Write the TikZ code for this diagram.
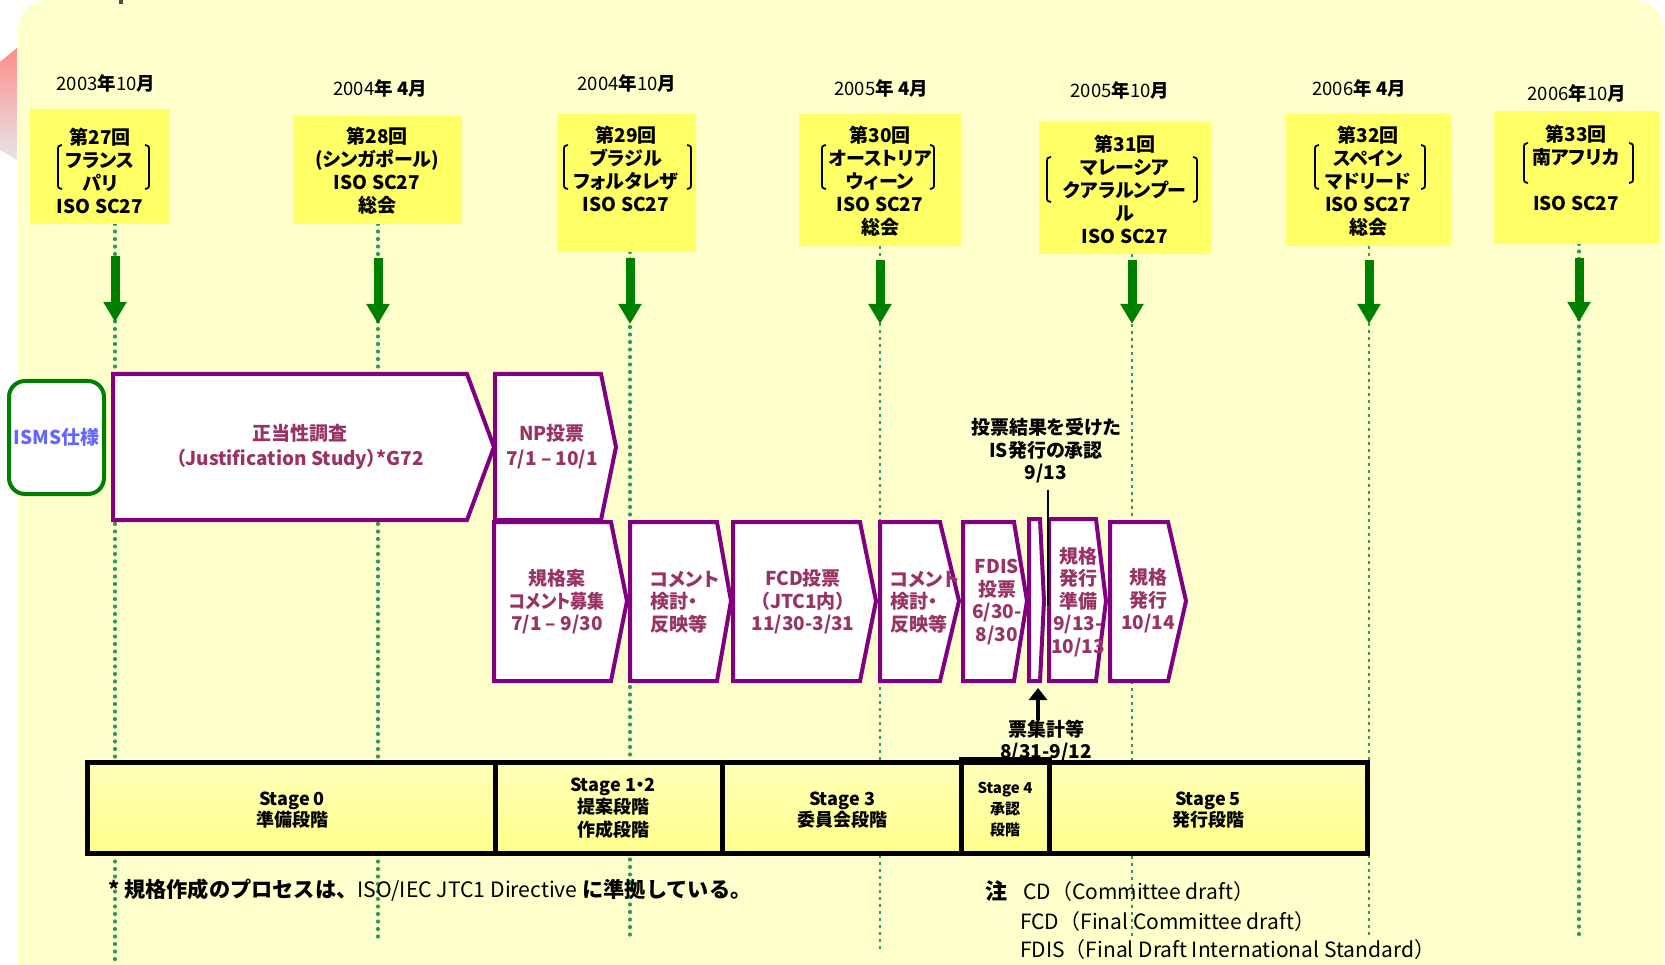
\documentclass[tikz,border=0pt]{standalone}
\usepackage{fontspec}
\usepackage{graphicx}
\setmainfont{Noto Sans CJK JP}[RawFeature=+palt]
\newfontfamily\plainjp{Noto Sans CJK JP}
\usetikzlibrary{arrows.meta}
\definecolor{bgyellow}{HTML}{FFFFCC}
\definecolor{boxyellow}{HTML}{FFFF66}
\definecolor{stagetop}{HTML}{FFFFB8}
\definecolor{stagebot}{HTML}{FFFF8C}
\definecolor{purp}{HTML}{800080}
\definecolor{maroon}{HTML}{993366}
\definecolor{ismsblue}{HTML}{6666FF}
\definecolor{tgreen}{HTML}{2E9966}
\definecolor{agreen}{HTML}{008000}
\begin{document}
\begin{tikzpicture}[x=1pt, y=-1pt,
  meetfill/.style={fill=boxyellow},
  meet/.style={font=\bfseries\fontsize{19}{23}\selectfont, align=center, inner sep=0pt},
  date/.style={font=\fontsize{18.5}{22}\selectfont, inner sep=0pt},
  tline/.style={draw=tgreen, line width=4.2pt, line cap=round, dash pattern=on 0pt off 7.5pt},
  tlinethin/.style={draw=tgreen, line width=2.8pt, dash pattern=on 3pt off 4pt},
  garrow/.style={draw=agreen, line width=9pt, -{Triangle[width=22pt,length=20pt]}},
  bracket/.style={line width=1.8pt},
  chev/.style={draw=purp, fill=white, line width=4pt, line join=miter},
  chevtext/.style={text=maroon, font=\bfseries\fontsize{19}{22.5}\selectfont, align=center, inner sep=0pt},
  stagebar/.style={draw=black, line width=5pt, top color=stagetop, bottom color=stagebot},
  stagetext/.style={font=\bfseries\fontsize{18}{21}\selectfont, align=center, inner sep=0pt},
  label/.style={font=\bfseries\fontsize{19}{22.5}\selectfont, align=center, inner sep=0pt},
  note/.style={font=\plainjp\fontsize{21}{24}\selectfont, anchor=west, inner sep=0pt}
]
\useasboundingbox (0,0) rectangle (1665,965);
\fill[white] (0,0) rectangle (1665,965);

% Background
\shade[top color=red!45, bottom color=gray!20] (0,62) -- (17,48) -- (17,160) -- (0,150) -- cycle;
\fill[bgyellow, rounded corners=30pt] (18,0) rectangle (1663,1010);
\fill[black!70] (119,0) rectangle (123,4);

% Timelines
\coordinate (t27) at (115,224);  \coordinate (e27) at (115,962);
\coordinate (t28) at (378,224);  \coordinate (e28) at (378,937);
\coordinate (t29) at (630,252);  \coordinate (e29) at (630,937);
\coordinate (t30) at (880,246);  \coordinate (e30) at (880,952);
\coordinate (t31) at (1132,254); \coordinate (e31) at (1132,937);
\coordinate (t32) at (1369,246); \coordinate (e32) at (1369,937);
\coordinate (t33) at (1579,244); \coordinate (e33) at (1579,937);
\draw[tline] (t27) -- (e27);
\draw[tline] (t28) -- (e28);
\draw[tline] (t29) -- (e29);
\draw[tlinethin] (t30) -- (e30);
\draw[tlinethin] (t31) -- (e31);
\draw[tlinethin] (t32) -- (e32);
\draw[tline] (t33) -- (e33);

% Meeting 27
\node[date] (d27) at (106,83) {2003{\bfseries 年}10{\bfseries 月}};
\fill[meetfill] (30,109) rectangle (170,224);
\node[meet] (m27) at (100,171) {第27回\\フランス\\パリ\\ISO SC27};
\draw[bracket] (62,145) .. controls (58,146) .. (58,151) -- (58,183) .. controls (58,188) .. (62,189);
\draw[bracket] (145,145) .. controls (149,146) .. (149,151) -- (149,183) .. controls (149,188) .. (145,189);

% Meeting 28
\node[date] (d28) at (380,88) {2004{\bfseries 年 4月}};
\fill[meetfill] (293,116) rectangle (462,224);
\node[meet] (m28) at (377,171) {第28回\\(シンガポール)\\ISO SC27\\総会};

% Meeting 29
\node[date] (d29) at (627,83) {2004{\bfseries 年}10{\bfseries 月}};
\fill[meetfill] (557,114) rectangle (696,252);
\node[meet] (m29) at (626,169) {第29回\\ブラジル\\フォルタレザ\\ISO SC27};
\draw[bracket] (568,145) .. controls (564,146) .. (564,151) -- (564,183) .. controls (564,188) .. (568,189);
\draw[bracket] (687,145) .. controls (691,146) .. (691,151) -- (691,183) .. controls (691,188) .. (687,189);

% Meeting 30
\node[date] (d30) at (881,88) {2005{\bfseries 年 4月}};
\fill[meetfill] (799,114) rectangle (961,246);
\node[meet] (m30) at (880,181) {第30回\\オーストリア\\ウィーン\\ISO SC27\\総会};
\draw[bracket] (826,145) .. controls (822,146) .. (822,151) -- (822,183) .. controls (822,188) .. (826,189);
\draw[bracket] (930,145) .. controls (934,146) .. (934,151) -- (934,183) .. controls (934,188) .. (930,189);

% Meeting 31
\node[date] (d31) at (1120,90) {2005{\bfseries 年}10{\bfseries 月}};
\fill[meetfill] (1039,122) rectangle (1211,254);
\node[meet] (m31) at (1125,189) {第31回\\マレーシア\\クアラルンプー\\ル\\ISO SC27};
\draw[bracket] (1051,157) .. controls (1047,158) .. (1047,163) -- (1047,196) .. controls (1047,201) .. (1051,202);
\draw[bracket] (1193,157) .. controls (1197,158) .. (1197,163) -- (1197,196) .. controls (1197,201) .. (1193,202);

% Meeting 32
\node[date] (d32) at (1359,88) {2006{\bfseries 年 4月}};
\fill[meetfill] (1286,114) rectangle (1451,246);
\node[meet] (m32) at (1368,181) {第32回\\スペイン\\マドリード\\ISO SC27\\総会};
\draw[bracket] (1319,145) .. controls (1315,146) .. (1315,151) -- (1315,183) .. controls (1315,188) .. (1319,189);
\draw[bracket] (1421,145) .. controls (1425,146) .. (1425,151) -- (1425,183) .. controls (1425,188) .. (1421,189);

% Meeting 33
\node[date] (d33) at (1577,93) {2006{\bfseries 年}10{\bfseries 月}};
\fill[meetfill] (1494,111) rectangle (1659,244);
\node[meet] (m33) at (1576,168) {第33回\\南アフリカ\\[23pt]ISO SC27};
\draw[bracket] (1528,143) .. controls (1524,144) .. (1524,149) -- (1524,177) .. controls (1524,182) .. (1528,183);
\draw[bracket] (1629,143) .. controls (1633,144) .. (1633,149) -- (1633,177) .. controls (1633,182) .. (1629,183);

% Green arrows
\coordinate (a27) at (115,256);  \coordinate (b27) at (115,322);
\coordinate (a28) at (378,258);  \coordinate (b28) at (378,324);
\coordinate (a29) at (630,258);  \coordinate (b29) at (630,324);
\coordinate (a30) at (880,260);  \coordinate (b30) at (880,324);
\coordinate (a31) at (1132,260); \coordinate (b31) at (1132,324);
\coordinate (a32) at (1369,260); \coordinate (b32) at (1369,324);
\coordinate (a33) at (1579,258); \coordinate (b33) at (1579,322);
\draw[garrow] (a27) -- (b27);
\draw[garrow] (a28) -- (b28);
\draw[garrow] (a29) -- (b29);
\draw[garrow] (a30) -- (b30);
\draw[garrow] (a31) -- (b31);
\draw[garrow] (a32) -- (b32);
\draw[garrow] (a33) -- (b33);

% ISMS
\node[draw=agreen, line width=4pt, rounded corners=16pt, fill=white, minimum width=95pt, minimum height=113pt,
  text=ismsblue, font=\bfseries\fontsize{19}{22}\selectfont] (isms) at (56.5,437.5) {ISMS仕様};

% Justification Study
\draw[chev] (113,374) -- (467,374) -- (494,447) -- (467,520) -- (113,520) -- cycle;
\node[chevtext, font=\bfseries\fontsize{19}{25}\selectfont] (just) at (300,447) {正当性調査\\（Justification Study）*G72};

% NP ballot
\draw[chev] (495,374) -- (601,374) -- (616,447) -- (601,520) -- (495,520) -- cycle;
\node[chevtext, font=\bfseries\fontsize{19}{25}\selectfont] (np) at (552,447) {NP投票\\7/1 – 10/1};

% Draft comments
\draw[chev] (494,522) -- (611,522) -- (627,601) -- (611,681) -- (494,681) -- cycle;
\node[chevtext] (cmt) at (557,602) {規格案\\\scalebox{0.9}[1]{コメント募集}\\7/1 – 9/30};

% Comment review 1
\draw[chev] (630,522) -- (717,522) -- (731,601) -- (717,681) -- (630,681) -- cycle;
\node[chevtext, align=left, anchor=west] (rev1) at (650,602) {コメント\\検討・\\反映等};

% FCD ballot
\draw[chev] (733,522) -- (860,522) -- (876,601) -- (860,681) -- (733,681) -- cycle;
\node[chevtext] (fcd) at (803,602) {FCD投票\\（JTC1内）\\11/30-3/31};

% Comment review 2
\draw[chev] (880,522) -- (940,522) -- (959,601) -- (940,681) -- (880,681) -- cycle;
\node[chevtext, align=left, anchor=west] (rev2) at (890,602) {コメント\\検討・\\反映等};

% FDIS ballot
\draw[chev] (963,522) -- (1014,522) -- (1027,601) -- (1014,681) -- (963,681) -- cycle;
\node[chevtext] (fdis) at (997,602) {FDIS\\投票\\6/30-\\8/30};

% Ballot count
\draw[chev] (1029,519) -- (1040,519) -- (1044,601) -- (1040,681) -- (1029,681) -- cycle;

% Publication prep
\draw[chev] (1049,519) -- (1096,519) -- (1106,601) -- (1096,681) -- (1049,681) -- cycle;
\node[chevtext] (prep) at (1078,602) {規格\\発行\\準備\\9/13-\\10/13};

% Publication
\draw[chev] (1110,522) -- (1168,522) -- (1186,601) -- (1168,681) -- (1110,681) -- cycle;
\node[chevtext] (pub) at (1148,601) {規格\\発行\\10/14};

% Approval
\node[label] (appr) at (1046,451) {投票結果を受けた\\IS発行の承認\\9/13};
\coordinate (apprEnd) at (1048,605);
\draw[line width=1.5pt, shorten <=6pt] (appr.south -| apprEnd) -- (apprEnd);

% Ballot count label
\node[label] (tally) at (1046,741) {票集計等\\8/31-9/12};
\coordinate (tallyTip) at (1038,688);
\draw[line width=4pt, -{Triangle[width=18pt,length=12pt]}] (tally.north -| tallyTip) -- (tallyTip);

% Stages
\draw[stagebar] (87,762) rectangle (1367,853);
\draw[line width=5pt] (495,762) -- (495,853);
\draw[line width=5pt] (722,762) -- (722,853);
\draw[line width=5pt] (961,759) rectangle (1049,853);
\node[stagetext] (s0) at (292,810) {Stage 0\\準備段階};
\node[stagetext, font=\bfseries\fontsize{18}{22.5}\selectfont] (s12) at (613,808) {Stage 1・2\\提案段階\\作成段階};
\node[stagetext] (s3) at (842,810) {Stage 3\\委員会段階};
\node[stagetext, font=\bfseries\fontsize{15}{21}\selectfont] (s4) at (1005,810) {Stage 4\\承認\\段階};
\node[stagetext] (s5) at (1208,810) {Stage 5\\発行段階};

% Notes
\node[note, font=\plainjp\fontsize{21.2}{24}\selectfont] (fn) at (108,890) {{\bfseries * 規格作成のプロセスは、}ISO/IEC JTC1 Directive {\bfseries に準拠している。}};
\node[note, font=\plainjp\bfseries\fontsize{22}{24}\selectfont] (chu) at (985,891) {注};
\node[note] (cd) at (1023,892) {CD（Committee draft）};
\node[note] (fcdn) at (1020,922) {FCD（Final Committee draft）};
\node[note] (fdisn) at (1020,950) {FDIS（Final Draft International Standard）};

\end{tikzpicture}
\end{document}
